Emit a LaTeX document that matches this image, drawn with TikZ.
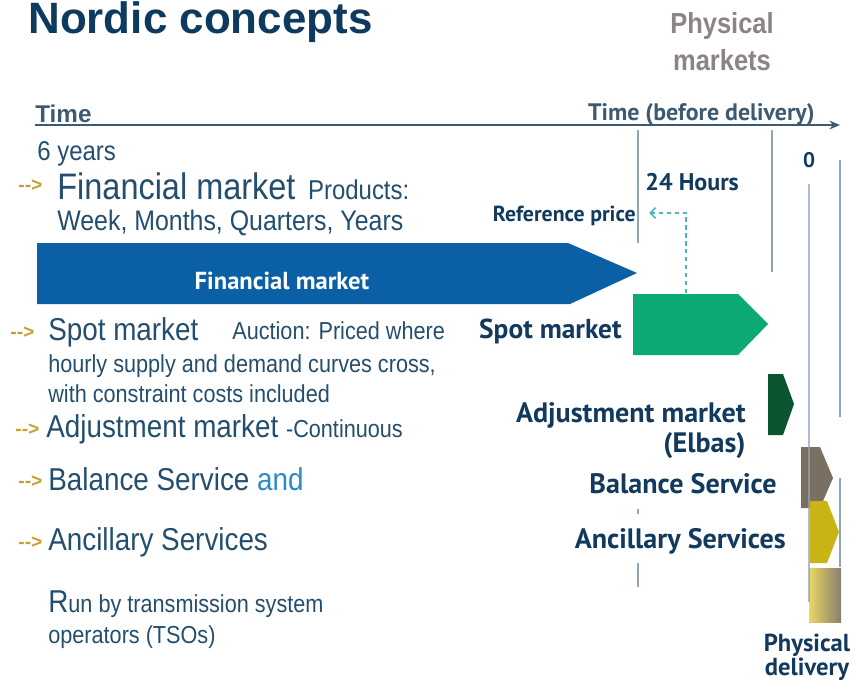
\documentclass[tikz,border=0pt]{standalone}
\usepackage{fontspec}
\setmainfont{Liberation Sans}
\newfontfamily\narrow{Liberation Sans}[FakeStretch=0.88]
\newfontfamily\din{PT Sans}
\usetikzlibrary{arrows.meta}

\definecolor{titleblue}{RGB}{13,58,94}
\definecolor{textblue}{RGB}{36,78,110}
\definecolor{navy}{RGB}{18,58,94}
\definecolor{physgray}{RGB}{140,132,132}
\definecolor{gold}{RGB}{200,160,48}
\definecolor{finblue}{RGB}{10,95,165}
\definecolor{spotgreen}{RGB}{10,170,114}
\definecolor{darkgreen}{RGB}{10,85,48}
\definecolor{balgray}{RGB}{122,112,98}
\definecolor{ancyellow}{RGB}{200,180,20}
\definecolor{linegray}{RGB}{143,165,184}
\definecolor{axisblue}{RGB}{61,90,115}
\definecolor{refcyan}{RGB}{74,184,196}
\definecolor{andblue}{RGB}{42,138,200}

\tikzset{
  lefttext/.style={anchor=base west, inner sep=0pt, text=textblue,
    font=\narrow\fontsize{15.5}{18}\selectfont},
  bigtext/.style={lefttext, font=\narrow\fontsize{18}{20}\selectfont},
  mlabel/.style={anchor=base east, inner sep=0pt, text=navy,
    font=\din\bfseries\fontsize{16}{18}\selectfont},
  pil/.style={anchor=base west, inner sep=0pt, text=gold,
    font=\bfseries\fontsize{11}{12}\selectfont},
  timeline/.style={line width=1.5pt, color=linegray},
}

\begin{document}
\begin{tikzpicture}[x=0.02cm, y=-0.02cm]
  \useasboundingbox (0,0) rectangle (854,682);

  % Titel
  \node[anchor=base west, inner sep=0pt, text=titleblue,
    font=\bfseries\fontsize{25}{30}\selectfont] (title) at (28,34) {Nordic concepts};
  \node[anchor=north, inner sep=0pt, align=center, text=physgray,
    font=\narrow\bfseries\fontsize{16.5}{21}\selectfont] (physmk) at (722,12) {Physical\\markets};

  % Tijdas
  \coordinate (axstart) at (35,125);
  \coordinate (axend) at (840,125);
  \draw [line width=1.2pt, axisblue, -{Stealth[length=6pt,width=5pt]}] (axstart) -- (axend);
  \node[anchor=base west, inner sep=0pt, text=axisblue,
    font=\bfseries\fontsize{13.8}{16}\selectfont] (time) at (35,123) {Time};
  \node[mlabel, text=axisblue, font=\din\bfseries\fontsize{13.6}{16}\selectfont]
    (tbd) at (815,121) {Time (before delivery)};

  % Verticale lijnen
  \foreach \x/\ya/\yb in {638/130/243, 772/130/272, 840/160/417, 840/478/567,
                          638/509/514, 638/563/587}
    \draw [timeline] (\x,\ya) -- (\x,\yb);

  % Financial market
  \fill [finblue] (37,243) -- (568,243) -- (637,273) -- (570,304) -- (37,304) -- cycle;
  \node[text=white, font=\din\bfseries\fontsize{14}{16}\selectfont] (finlab) at (282,281) {Financial market};

  % Spot, Elbas, balans, ancillary
  \fill [spotgreen] (633,294) -- (738,294) -- (768,324) -- (738,355) -- (633,355) -- cycle;
  \fill [darkgreen] (768,374) -- (783,374) -- (794,404) -- (783,435) -- (768,435) -- cycle;
  \fill [balgray] (801,447) -- (820,447) -- (833,478) -- (820,508) -- (801,508) -- cycle;
  \fill [ancyellow] (810,501) -- (827,501) -- (839,532) -- (827,563) -- (810,563) -- cycle;
  \shade [left color={rgb,255:red,234;green,214;blue,100}, right color={rgb,255:red,135;green,126;blue,112}]
    (809,568) rectangle (841,622);
  \draw [timeline, opacity=0.75] (809,184) -- (809,602);

  % Referentieprijs
  \node[mlabel, font=\din\bfseries\fontsize{12.4}{15}\selectfont] (reflab) at (636,221) {Reference price};
  \node[mlabel, anchor=base west, font=\din\bfseries\fontsize{13.7}{15}\selectfont] (hours) at (645,191) {24 Hours};
  \node[mlabel, anchor=base, font=\din\bfseries\fontsize{12}{14}\selectfont] (zero) at (809,168) {0};
  \coordinate (spottop) at (686,293);
  \coordinate (reftip) at (649,213);
  \draw [refcyan, line width=1pt, dash pattern=on 2.5pt off 2pt,
    -{Straight Barb[length=3pt,width=6pt]}] (spottop) |- (reftip);

  % Labels rechts
  \node[mlabel, font=\din\bfseries\fontsize{15.6}{19}\selectfont] (spotlab) at (622,338) {Spot market};
  \node[mlabel, font=\din\bfseries\fontsize{16}{17}\selectfont] (adjlab) at (746,422) {Adjustment market};
  \node[mlabel, font=\din\bfseries\fontsize{16}{17}\selectfont] (elbas) at (746,452) {(Elbas)};
  \node[mlabel] (ballab) at (777,493) {Balance Service};
  \node[mlabel] (anclab) at (786,548) {Ancillary Services};
  \node[anchor=north, inner sep=0pt, align=center, text=navy,
    font=\din\bfseries\fontsize{14}{13.6}\selectfont] (physdel) at (807,634) {Physical\\delivery};

  % Tekst links
  \node[lefttext] (years) at (37,160) {6 years};
  \node[lefttext, font=\narrow\fontsize{21}{24}\selectfont] (finmk) at (57,199)
    {Financial market \hspace{2pt}{\fontsize{15.5}{18}\selectfont Products:}};
  \node[lefttext, font=\narrow\fontsize{16.1}{18}\selectfont] (products) at (57,230) {Week, Months, Quarters, Years};
  \node[bigtext] (spotmk) at (48,340) {Spot market};
  \node[lefttext, font=\narrow\fontsize{14}{16}\selectfont] (auction) at (232,339) {Auction: Priced where};
  \node[lefttext, font=\narrow\fontsize{14}{16}\selectfont] (hourly) at (48,372) {hourly supply and demand curves cross,};
  \node[lefttext, font=\narrow\fontsize{14}{16}\selectfont] (constraint) at (48,402) {with constraint costs included};
  \node[bigtext] (adjmk) at (46,437) {Adjustment market {\fontsize{14}{16}\selectfont -Continuous}};
  \node[bigtext] (balmk) at (48,490) {Balance Service \textcolor{andblue}{and}};
  \node[bigtext] (ancmk) at (48,550) {Ancillary Services};
  \node[lefttext, font=\narrow\fontsize{14}{16}\selectfont] (tso1) at (48,612)
    {{\fontsize{18}{20}\selectfont R}un by transmission system};
  \node[lefttext, font=\narrow\fontsize{14}{16}\selectfont] (tso2) at (48,643) {operators (TSOs)};

  % Pijltjes
  \node[pil] (pil1) at (18,192) {-{}-{}>};
  \node[pil] (pil2) at (10,338) {-{}-{}>};
  \node[pil] (pil3) at (15,435) {-{}-{}>};
  \node[pil] (pil4) at (18,487) {-{}-{}>};
  \node[pil] (pil5) at (18,548) {-{}-{}>};
\end{tikzpicture}
\end{document}
